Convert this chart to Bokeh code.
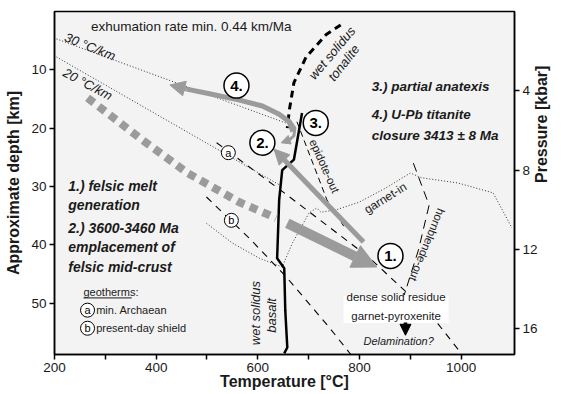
from bokeh.plotting import figure
from bokeh.models import Range1d, LinearAxis, FixedTicker, Label, Arrow, NormalHead
from bokeh.core.properties import value
from bokeh.embed import file_html
from bokeh.resources import INLINE
import math

FONT = "Liberation Sans"
GRAY = "#9b9b9b"
INK = "#1a1a1a"
KM_PER_KBAR = 3.4

# ---------------- data (temperature °C, depth km) ----------------
temp_ticks = [200, 300, 400, 500, 600, 700, 800, 900, 1000]
depth_ticks = [10, 20, 30, 40, 50]
pressure_ticks = [4, 8, 12, 16]

geo30_T = [204, 664]
geo30_d = [4.7, 19.4]
geo20_T = [204, 642]
geo20_d = [7.8, 29.7]

geoA_T = [519, 652, 818, 892, 955, 1000]
geoA_d = [22.5, 31.1, 42.1, 48.1, 53.6, 58.6]
geoB_T = [499, 587, 656, 740, 783]
geoB_d = [31.8, 39.2, 45.5, 54.1, 58.8]

basalt_T = [687, 671, 648, 642, 638, 652, 654, 658, 652]
basalt_d = [17.4, 25.4, 27.2, 32.3, 42.3, 44.0, 51.2, 57.6, 58.6]

tonalite_T = [763, 734, 695, 671, 662, 658]
tonalite_d = [2.3, 4.0, 7.8, 12.2, 16.9, 20.0]

epidote_T = [677, 736, 769]
epidote_d = [18.9, 32.3, 36.8]

garnet_T = [499, 550, 603, 648, 668, 701, 716, 724, 754, 799, 851, 900, 922, 994, 1063, 1100]
garnet_d = [36.3, 39.7, 42.3, 43.8, 39.7, 34.5, 33.7, 34.4, 34.0, 32.7, 30.3, 27.7, 28.5, 29.4, 31.1, 37.1]

hbl_T = [906, 937, 916, 888]
hbl_d = [26.0, 33.2, 40.9, 48.6]

melt_T = [265, 368, 462, 564, 636]
melt_d = [14.8, 21.7, 27.7, 32.7, 35.4]

arrow1 = dict(x0=658, y0=36.3, x1=834, y1=43.8)
arrow2 = dict(x0=808, y0=39.5, x1=632, y1=23.6)

arrow4_T = [669, 662, 642, 609, 564, 505, 460]
arrow4_d = [20.6, 18.9, 17.6, 16.2, 15.2, 14.1, 13.3]
arrow4_tip = (427, 12.6)

arrow3_T = [662, 673, 671, 662]
arrow3_d = [18.6, 20.0, 21.3, 22.0]
arrow3_tip = (646, 22.5)

stage_T = [861, 609, 714, 558]
stage_d = [41.9, 22.5, 19.1, 12.7]
stage_labels = ["1.", "2.", "3.", "4."]

geo_mark_T = [542, 548, 265, 265]
geo_mark_d = [24.2, 35.8, 51.2, 54.3]
geo_mark_labels = ["a", "b", "a", "b"]

legend_underline_T = [257, 352]
legend_underline_d = [49.1, 49.1]

residue_box = (872, 51.1)
delam_arrow = dict(x=890.5, y0=53.3, y1=55.5)

# ---------------- figure ----------------
p = figure(width=561, height=394,
           x_range=Range1d(200, 1105), y_range=Range1d(58.8, 0),
           output_backend="svg", toolbar_location=None,
           min_border_left=54, min_border_top=11, min_border_right=44, min_border_bottom=40,
           background_fill_color="#f3f3f3", border_fill_color="white",
           outline_line_color="black", outline_line_width=1.5)
p.grid.visible = False
p.extra_y_ranges = {"p": Range1d(58.8 / KM_PER_KBAR, 0)}

def style_axis(ax, label, standoff, label_standoff=3):
    ax.axis_line_color = "black"
    ax.axis_line_width = 1.5
    ax.major_tick_line_width = 1.5
    ax.major_tick_out = 5
    ax.major_tick_in = 0
    ax.minor_tick_line_color = None
    ax.major_label_text_font = FONT
    ax.major_label_text_font_size = "13.5px"
    ax.major_label_text_color = INK
    ax.major_label_standoff = label_standoff
    ax.axis_label = label
    ax.axis_label_text_font = FONT
    ax.axis_label_text_font_size = "16px"
    ax.axis_label_text_font_style = "bold"
    ax.axis_label_text_color = INK
    ax.axis_label_standoff = standoff

p.xaxis.ticker = FixedTicker(ticks=temp_ticks)
p.xaxis.major_label_overrides = {t: "" for t in temp_ticks if t % 200}
p.yaxis.ticker = FixedTicker(ticks=depth_ticks)
style_axis(p.xaxis[0], "Temperature [°C]", -2, 3)
style_axis(p.yaxis[0], "Approximate depth [km]", 6)
rax = LinearAxis(y_range_name="p", ticker=FixedTicker(ticks=pressure_ticks))
style_axis(rax, "Pressure [kbar]", 1)
if "axis_label_orientation" in rax.properties():
    rax.axis_label_orientation = math.pi / 2
p.add_layout(rax, "right")

# ---------------- lines ----------------
p.line(geo30_T, geo30_d, line_color="#333333", line_width=1, line_dash="1 2")
p.line(geo20_T, geo20_d, line_color="#333333", line_width=1, line_dash="1 2")
p.line(garnet_T, garnet_d, line_color="#333333", line_width=1, line_dash="1 2")
p.line(geoA_T, geoA_d, line_color="black", line_width=1.1, line_dash="7 6")
p.line(geoB_T, geoB_d, line_color="black", line_width=1.1, line_dash="7 6")
p.line(epidote_T, epidote_d, line_color="black", line_width=1, line_dash="6 4")
p.line(hbl_T, hbl_d, line_color="black", line_width=1, line_dash="9 6")
p.line(tonalite_T, tonalite_d, line_color="black", line_width=3, line_dash="7 5")
p.line(basalt_T, basalt_d, line_color="black", line_width=2.5)

# residue box
p.rect(x=[residue_box[0]], y=[residue_box[1]], width=105, height=27,
       width_units="screen", height_units="screen", fill_color="white", line_color=None)

# gray paths
p.line(melt_T, melt_d, line_color=GRAY, line_width=8, line_dash="8 6")
p.add_layout(Arrow(end=NormalHead(size=24, fill_color=GRAY, line_color=GRAY),
                   x_start=arrow1["x0"], y_start=arrow1["y0"], x_end=arrow1["x1"], y_end=arrow1["y1"],
                   line_color=GRAY, line_width=10))
p.add_layout(Arrow(end=NormalHead(size=15, fill_color=GRAY, line_color=GRAY),
                   x_start=arrow2["x0"], y_start=arrow2["y0"], x_end=arrow2["x1"], y_end=arrow2["y1"],
                   line_color=GRAY, line_width=5))
p.line(arrow4_T, arrow4_d, line_color=GRAY, line_width=5)
p.add_layout(Arrow(end=NormalHead(size=15, fill_color=GRAY, line_color=GRAY),
                   x_start=arrow4_T[-1], y_start=arrow4_d[-1], x_end=arrow4_tip[0], y_end=arrow4_tip[1],
                   line_color=GRAY, line_width=5))
p.line(arrow3_T, arrow3_d, line_color=GRAY, line_width=3)
p.add_layout(Arrow(end=NormalHead(size=9, fill_color=GRAY, line_color=GRAY),
                   x_start=arrow3_T[-1], y_start=arrow3_d[-1], x_end=arrow3_tip[0], y_end=arrow3_tip[1],
                   line_color=GRAY, line_width=3))

# delamination arrow
p.add_layout(Arrow(end=NormalHead(size=11, fill_color="black", line_color="black"),
                   x_start=delam_arrow["x"], y_start=delam_arrow["y0"],
                   x_end=delam_arrow["x"], y_end=delam_arrow["y1"],
                   line_color="black", line_width=3.5))

# legend underline
p.line(legend_underline_T, legend_underline_d, line_color=INK, line_width=1)

# circled markers
p.scatter(stage_T, stage_d, marker="circle", size=25, fill_color="white",
          line_color="black", line_width=1.5, level="overlay")
p.text(stage_T, stage_d, text=stage_labels, text_font=value(FONT), text_font_style="bold",
       text_font_size="15px", text_align="center", text_baseline="middle",
       text_color="black", level="overlay")
p.scatter(geo_mark_T, geo_mark_d, marker="circle", size=14, fill_color="white",
          line_color="black", line_width=1, level="overlay")
p.text(geo_mark_T, geo_mark_d, text=geo_mark_labels, text_font=value(FONT),
       text_font_size="11px", text_align="center", text_baseline="middle",
       text_color="black", level="overlay")

# ---------------- texts ----------------
def lab(x, y, text, size="13px", style="normal", align="left", angle=0.0, color=INK):
    p.add_layout(Label(x=x, y=y, text=text, text_font=FONT, text_font_size=size,
                       text_font_style=style, text_align=align, text_baseline="middle",
                       angle=angle, text_color=color))

deg = math.pi / 180
lab(272, 2.6, "exhumation rate min. 0.44 km/Ma", size="13.5px")
lab(221, 4.3, "30 °C/km", size="13px", style="italic", angle=-22 * deg)
lab(219, 10.3, "20 °C/km", size="13px", style="italic", angle=-28 * deg)

lab(227, 29.9, "1.) felsic melt", size="14px", style="bold italic")
lab(227, 33.2, "generation", size="14px", style="bold italic")
lab(227, 37.1, "2.) 3600-3460 Ma", size="14px", style="bold italic")
lab(227, 40.4, "emplacement of", size="14px", style="bold italic")
lab(227, 43.8, "felsic mid-crust", size="14px", style="bold italic")

lab(824, 12.9, "3.) partial anatexis", size="13.5px", style="bold italic")
lab(824, 17.7, "4.) U-Pb titanite", size="13.5px", style="bold italic")
lab(824, 21.2, "closure 3413 ± 8 Ma", size="13.5px", style="bold italic")

lab(257, 48.1, "geotherms:", size="11px")
lab(282, 51.2, "min. Archaean", size="11px")
lab(282, 54.3, "present-day shield", size="11px")

lab(746, 7.1, "wet solidus", size="13px", style="italic", align="center", angle=50 * deg)
lab(769, 8.8, "tonalite", size="13px", style="italic", align="center", angle=52 * deg)
lab(595, 51.7, "wet solidus", size="13px", style="italic", align="center", angle=90 * deg)
lab(626, 52.1, "basalt", size="13px", style="italic", align="center", angle=90 * deg)
lab(731, 26.5, "epidote-out", size="11.5px", align="center", angle=-66 * deg)
lab(851, 32.0, "garnet-in", size="12px", align="center", angle=32 * deg)
lab(933, 40.0, "hornblende-out", size="11.5px", align="center", angle=-112 * deg)

lab(872, 48.9, "dense solid residue", size="11.5px", align="center")
lab(872, 52.2, "garnet-pyroxenite", size="11.5px", align="center")
lab(877, 56.4, "Delamination?", size="11px", style="italic", align="center")

open("out.html", "w").write(file_html(p, INLINE))
